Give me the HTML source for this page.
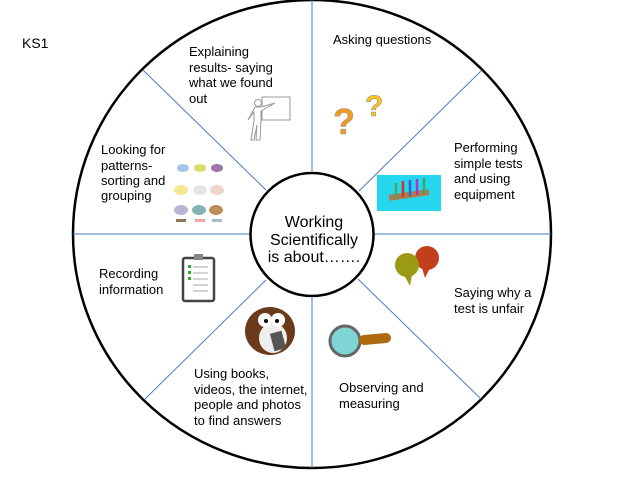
<!DOCTYPE html>
<html><head><meta charset="utf-8"><style>
html,body{margin:0;padding:0;background:#fff;width:634px;height:484px;overflow:hidden}
svg{display:block}
text{font-family:"Liberation Sans",Arial,sans-serif;fill:#000}
.t{font-size:13px}
</style></head><body>
<svg width="634" height="484" viewBox="0 0 634 484">
<text x="22" y="48" style="font-size:14px">KS1</text>
<ellipse cx="312" cy="234" rx="239" ry="234" fill="#fff" stroke="#000" stroke-width="2.5"/>
<g stroke="#4a7cc4" stroke-width="1">
<line x1="312" y1="0" x2="312" y2="171"/>
<line x1="312" y1="298" x2="312" y2="468"/>
<line x1="73" y1="234" x2="251" y2="234"/>
<line x1="373" y1="234" x2="551" y2="234"/>
<line x1="143" y1="70" x2="266" y2="190"/>
<line x1="481" y1="71" x2="359" y2="191"/>
<line x1="145" y1="399" x2="266" y2="280"/>
<line x1="481" y1="399" x2="358" y2="279"/>
</g>
<circle cx="312" cy="234.5" r="61.5" fill="#fff" stroke="#000" stroke-width="2.5"/>
<g style="font-size:16px" text-anchor="middle">
<text x="314" y="227">Working</text>
<text x="314" y="245">Scientifically</text>
<text x="314" y="262">is about…….</text>
</g>
<g class="t">
<text x="189" y="56">Explaining</text><text x="189" y="72">results- saying</text><text x="189" y="87">what we found</text><text x="189" y="103">out</text>
<text x="333" y="44">Asking questions</text>
<text x="454" y="152">Performing</text><text x="454" y="168">simple tests</text><text x="454" y="183">and using</text><text x="454" y="199">equipment</text>
<text x="101" y="154">Looking for</text><text x="101" y="170">patterns-</text><text x="101" y="185">sorting and</text><text x="101" y="200">grouping</text>
<text x="99" y="278">Recording</text><text x="99" y="294">information</text>
<text x="454" y="297">Saying why a</text><text x="454" y="313">test is unfair</text>
<text x="194" y="378">Using books,</text><text x="194" y="394">videos, the internet,</text><text x="194" y="409">people and photos</text><text x="194" y="425">to find answers</text>
<text x="339" y="392">Observing and</text><text x="339" y="408">measuring</text>
</g>
<!-- teacher -->
<rect x="262" y="97" width="28" height="23" fill="none" stroke="#999"/>
<g stroke="#999" fill="#fff">
<circle cx="258" cy="103" r="3.5"/>
<path d="M255 107 L261 107 L275 103 L261 111 L261 121 L260 140 L256 140 L257 125 L254 140 L251 140 L254 121 L254 112 L248 120 Z"/>
</g>
<!-- question marks -->
<text x="333" y="134" style="font-size:36px;font-weight:bold;fill:#f39a1e;stroke:#999;stroke-width:.6">?</text>
<text x="365" y="116" style="font-size:30px;font-weight:bold;fill:#f7c31a;stroke:#999;stroke-width:.6">?</text>
<!-- test tubes -->
<rect x="377" y="175" width="64" height="36" fill="#26d6ee"/>
<rect x="389" y="192" width="40" height="6" fill="#b07a4a" transform="rotate(-8 409 195)"/>
<g stroke-width="2.5"><line x1="396" y1="183" x2="396" y2="198" stroke="#4a6"/><line x1="403" y1="181" x2="403" y2="197" stroke="#c33"/><line x1="410" y1="180" x2="410" y2="196" stroke="#36c"/><line x1="417" y1="179" x2="417" y2="195" stroke="#a3c"/><line x1="424" y1="178" x2="424" y2="194" stroke="#3a6"/></g>
<!-- birds -->
<g opacity=".75">
<ellipse cx="183" cy="168" rx="6" ry="4" fill="#8ab4e0"/><ellipse cx="200" cy="168" rx="6" ry="4" fill="#c8d43a"/><ellipse cx="217" cy="168" rx="6" ry="4" fill="#7a4a90"/>
<ellipse cx="181" cy="190" rx="7" ry="5" fill="#f3e070"/><ellipse cx="200" cy="190" rx="7" ry="5" fill="#ddd"/><ellipse cx="217" cy="190" rx="7" ry="5" fill="#e8c8b8"/>
<ellipse cx="181" cy="210" rx="7" ry="5" fill="#a89ac8"/><ellipse cx="199" cy="210" rx="7" ry="5" fill="#5a9a9a"/><ellipse cx="216" cy="210" rx="7" ry="5" fill="#a86a20"/>
<rect x="176" y="219" width="10" height="3" fill="#6a4a20"/><rect x="195" y="219" width="10" height="3" fill="#e88"/><rect x="212" y="219" width="10" height="3" fill="#8ab"/>
</g>
<!-- clipboard -->
<rect x="183" y="258" width="31" height="43" rx="2" fill="#fff" stroke="#444" stroke-width="2.5"/>
<rect x="194" y="254" width="9" height="6" fill="#888"/>
<g stroke="#aaa"><line x1="193" y1="267" x2="208" y2="267"/><line x1="193" y1="273" x2="208" y2="273"/><line x1="193" y1="279" x2="208" y2="279"/><line x1="193" y1="285" x2="208" y2="285"/><line x1="193" y1="291" x2="208" y2="291"/></g>
<g fill="#3a3"><rect x="188" y="265" width="3" height="3"/><rect x="188" y="271" width="3" height="3"/><rect x="188" y="277" width="3" height="3"/></g>
<!-- speech bubbles -->
<circle cx="427" cy="258" r="12" fill="#c23f1a"/><path d="M422 268 L425 278 L430 268Z" fill="#c23f1a"/>
<circle cx="407" cy="265" r="12" fill="#9a9a14"/><path d="M404 275 L410 286 L412 275Z" fill="#9a9a14"/>
<!-- owl -->
<ellipse cx="270" cy="331" rx="25" ry="24" fill="#6b3a1a"/>
<ellipse cx="273" cy="338" rx="14" ry="15" fill="#eee"/>
<circle cx="265" cy="320" r="7" fill="#fff"/><circle cx="278" cy="320" r="7" fill="#fff"/>
<circle cx="266" cy="321" r="2" fill="#000"/><circle cx="277" cy="321" r="2" fill="#000"/>
<rect x="272" y="332" width="12" height="18" fill="#555" transform="rotate(-15 278 341)"/>
<!-- magnifier -->
<circle cx="345" cy="341" r="15" fill="#7fd4d4" stroke="#666" stroke-width="3"/>
<rect x="359" y="334" width="32" height="10" rx="5" fill="#b06a10" transform="rotate(-5 375 339)"/>
</svg>
</body></html>
